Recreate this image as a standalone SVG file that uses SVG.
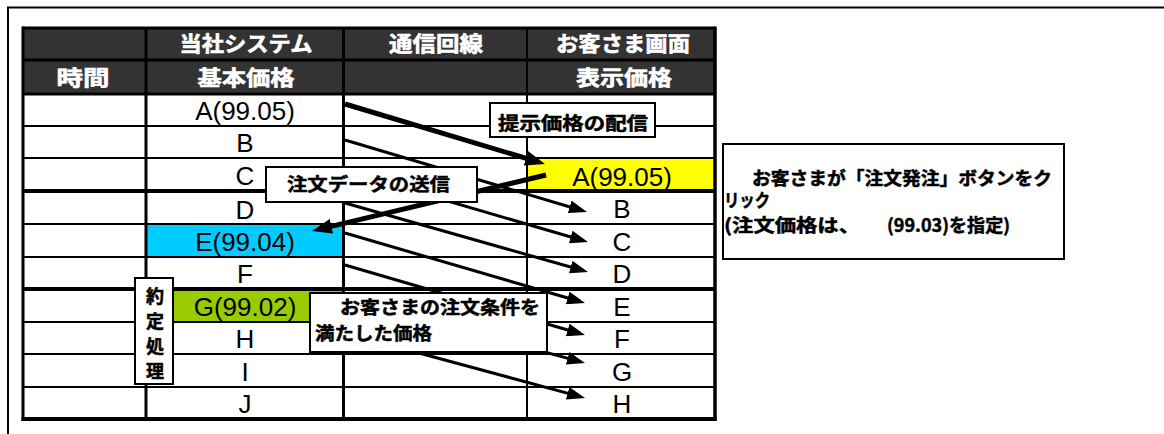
<svg xmlns="http://www.w3.org/2000/svg" width="1164" height="434" viewBox="0 0 1164 434">
<style>
  .frame{stroke:#000;stroke-width:2;fill:none}
  .grid{stroke:#000;fill:none}
  .hd{font-family:"Noto Sans CJK JP","Liberation Sans",sans-serif;font-weight:bold;font-size:21px;fill:#fff;stroke:#fff;stroke-width:0.6;text-anchor:middle}
  .cell{font-family:"Liberation Sans",Arial,sans-serif;font-size:26px;fill:#000;text-anchor:middle}
  .lbl{font-family:"Noto Sans CJK JP","Liberation Sans",sans-serif;font-weight:bold;font-size:18px;fill:#000;stroke:#000;stroke-width:0.5}
  .box{fill:#fff;stroke:#000;stroke-width:2}
  .arr{stroke:#000;stroke-width:3;fill:none;marker-end:url(#ah)}
  .arrB{stroke:#000;stroke-width:5;fill:none;marker-end:url(#ahB)}
</style>
<defs>
  <marker id="ah" viewBox="0 0 18 13" refX="10" refY="6.5" markerWidth="18" markerHeight="13" markerUnits="userSpaceOnUse" orient="auto"><path d="M0,0 L18,6.5 L0,13 z" fill="#000"/></marker>
  <marker id="ahB" viewBox="0 0 20 15" refX="12" refY="7.5" markerWidth="20" markerHeight="15" markerUnits="userSpaceOnUse" orient="auto"><path d="M0,0 L20,7.5 L0,15 z" fill="#000"/></marker>
</defs>
<rect width="1164" height="434" fill="#fff"/>
<g id="frame">
  <line class="frame" x1="7" y1="7.5" x2="1164" y2="7.5"/>
  <line class="frame" x1="8" y1="7" x2="8" y2="434"/>
</g>
<g id="table">
  <rect x="23" y="28" width="692" height="66" fill="#333"/>
  <rect x="527" y="158" width="188" height="33" fill="#ffff00"/>
  <rect x="146" y="224" width="197" height="33" fill="#00ccff"/>
  <rect x="146" y="289" width="197" height="33" fill="#99cc00"/>
  <g class="grid">
    <line x1="23" y1="28" x2="715" y2="28" stroke-width="3"/>
    <line x1="23" y1="60" x2="715" y2="60" stroke-width="3"/>
    <line x1="23" y1="94" x2="715" y2="94" stroke-width="3"/>
    <line x1="23" y1="126" x2="715" y2="126" stroke-width="2"/>
    <line x1="23" y1="158" x2="715" y2="158" stroke-width="2"/>
    <line x1="23" y1="191" x2="715" y2="191" stroke-width="4"/>
    <line x1="23" y1="224" x2="715" y2="224" stroke-width="2"/>
    <line x1="23" y1="257" x2="715" y2="257" stroke-width="2"/>
    <line x1="23" y1="289" x2="715" y2="289" stroke-width="4"/>
    <line x1="23" y1="322" x2="715" y2="322" stroke-width="2"/>
    <line x1="23" y1="354" x2="715" y2="354" stroke-width="2"/>
    <line x1="23" y1="387" x2="715" y2="387" stroke-width="2"/>
    <line x1="21.5" y1="419" x2="716.5" y2="419" stroke-width="4"/>
    <line x1="23" y1="26.5" x2="23" y2="421" stroke-width="3"/>
    <line x1="146" y1="28" x2="146" y2="419" stroke-width="3"/>
    <line x1="343.5" y1="28" x2="343.5" y2="419" stroke-width="3"/>
    <line x1="527" y1="28" x2="527" y2="419" stroke-width="2"/>
    <line x1="715" y1="26.5" x2="715" y2="421" stroke-width="3.5"/>
  </g>
  <text class="hd" x="246" y="51" textLength="133" lengthAdjust="spacingAndGlyphs">当社システム</text>
  <text class="hd" x="436" y="51" textLength="94" lengthAdjust="spacingAndGlyphs">通信回線</text>
  <text class="hd" x="623" y="51" textLength="134" lengthAdjust="spacingAndGlyphs">お客さま画面</text>
  <text class="hd" x="83" y="85" textLength="53" lengthAdjust="spacingAndGlyphs">時間</text>
  <text class="hd" x="246" y="85" textLength="97" lengthAdjust="spacingAndGlyphs">基本価格</text>
  <text class="hd" x="624" y="85" textLength="96" lengthAdjust="spacingAndGlyphs">表示価格</text>
  <g class="cell">
    <text x="245" y="120">A(99.05)</text>
    <text x="245" y="152">B</text>
    <text x="245" y="185">C</text>
    <text x="245" y="219">D</text>
    <text x="245" y="251">E(99.04)</text>
    <text x="245" y="283">F</text>
    <text x="245" y="316">G(99.02)</text>
    <text x="245" y="348">H</text>
    <text x="245" y="381">I</text>
    <text x="245" y="413">J</text>
    <text x="622" y="186">A(99.05)</text>
    <text x="622" y="218">B</text>
    <text x="622" y="251">C</text>
    <text x="622" y="283">D</text>
    <text x="622" y="316">E</text>
    <text x="622" y="348">F</text>
    <text x="622" y="381">G</text>
    <text x="622" y="413">H</text>
  </g>
</g>
<g id="connectors">
  <line class="arrB" x1="345" y1="104" x2="537.3" y2="161.7"/>
  <line class="arr" x1="345" y1="140" x2="579.3" y2="209.7"/>
  <line class="arr" x1="345" y1="171" x2="580.3" y2="239.8"/>
  <line class="arr" x1="345" y1="203" x2="580.3" y2="269.8"/>
  <line class="arr" x1="345" y1="233" x2="577.3" y2="300.8"/>
  <line class="arr" x1="345" y1="265" x2="577.3" y2="332.8"/>
  <line class="arr" x1="345" y1="298" x2="577.3" y2="360.9"/>
  <line class="arr" x1="345" y1="333" x2="577.3" y2="395.9"/>
  <line class="arrB" x1="546" y1="175" x2="319.8" y2="229.1"/>
</g>
<g id="label-teiji">
  <rect class="box" x="490" y="103" width="165" height="34"/>
  <text class="lbl" x="498" y="130" font-size="19" textLength="150" lengthAdjust="spacingAndGlyphs">提示価格の配信</text>
</g>
<g id="label-soushin">
  <rect class="box" x="266" y="167" width="211" height="35"/>
  <text class="lbl" x="287" y="191" textLength="163" lengthAdjust="spacingAndGlyphs">注文データの送信</text>
</g>
<g id="label-yakujo">
  <rect class="box" x="135" y="278" width="38" height="106" stroke-width="1.5"/>
  <text class="lbl" text-anchor="middle"><tspan x="155" y="303">約</tspan><tspan x="155" y="328">定</tspan><tspan x="155" y="353">処</tspan><tspan x="155" y="378">理</tspan></text>
</g>
<g id="label-jouken">
  <rect class="box" x="310" y="293" width="237" height="59"/>
  <text class="lbl" x="340" y="314" textLength="200" lengthAdjust="spacingAndGlyphs">お客さまの注文条件を</text>
  <text class="lbl" x="315" y="340" textLength="117" lengthAdjust="spacingAndGlyphs">満たした価格</text>
</g>
<g id="note-click">
  <rect class="box" x="723" y="144" width="341" height="115"/>
  <text class="lbl" x="752" y="185" font-size="17" textLength="300" lengthAdjust="spacingAndGlyphs">お客さまが「注文発注」ボタンをク</text>
  <text class="lbl" x="724" y="207" font-size="17" textLength="46" lengthAdjust="spacingAndGlyphs">リック</text>
  <text class="lbl" y="232" font-size="17"><tspan x="724" textLength="136" lengthAdjust="spacingAndGlyphs">(注文価格は、</tspan><tspan x="887" textLength="123" lengthAdjust="spacingAndGlyphs">(99.03)を指定)</tspan></text>
</g>
</svg>
